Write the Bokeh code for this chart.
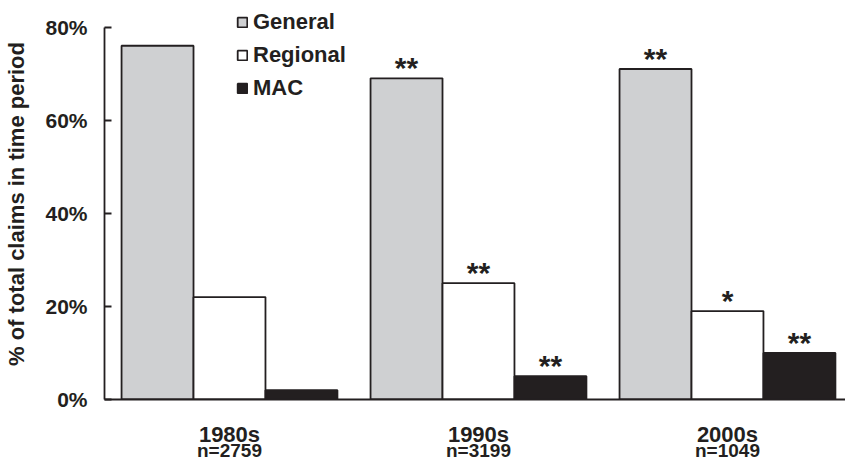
from bokeh.plotting import figure
from bokeh.models import Range1d, FixedTicker, Legend, LegendItem, ColumnDataSource, LinearAxis
from bokeh.core.properties import value
from bokeh.embed import file_html
from bokeh.resources import INLINE

periods = ["1980s", "1990s", "2000s"]
counts = ["n=2759", "n=3199", "n=1049"]
series = ["General", "Regional", "MAC"]
general = [76, 69, 71]
regional = [22, 25, 19]
mac = [2, 5, 10]
general_sig = ["", "**", "**"]
regional_sig = ["", "**", "*"]
mac_sig = ["", "**", "**"]
y_ticks = [0, 20, 40, 60, 80]
y_tick_labels = ["0%", "20%", "40%", "60%", "80%"]

FONT = "Liberation Sans"
INK = "#231f20"
fills = ["#cfd0d2", "#ffffff", INK]

p = figure(width=845, height=463, output_backend="svg", toolbar_location=None,
           x_range=Range1d(-0.502, 2.474), y_range=Range1d(0, 84.0),
           min_border_left=104, min_border_right=0, min_border_top=8, min_border_bottom=60)
p.outline_line_color = None
p.xgrid.visible = False
p.ygrid.visible = False
p.background_fill_color = "white"

bw = 0.289
offsets = [-bw, 0.0, bw]
xs = list(range(len(periods)))
items = []
for name, vals, sig, off, col in zip(series, [general, regional, mac],
                                      [general_sig, regional_sig, mac_sig], offsets, fills):
    src = ColumnDataSource(dict(x=[x + off for x in xs], top=vals, sig=sig))
    r = p.vbar(x="x", top="top", width=bw, source=src, fill_color=col,
               line_color=INK, line_width=1.8)
    items.append(LegendItem(label=name, renderers=[r]))
    p.text(x="x", y="top", text="sig", source=src, text_align="center",
           text_baseline="bottom", y_offset=6, text_font=value(FONT),
           text_font_style="bold", text_font_size="30px", text_color=INK)

legend = Legend(items=items, location=(132, 298), orientation="vertical",
                border_line_color=None, background_fill_alpha=0,
                padding=0, margin=0, spacing=7, glyph_width=12, glyph_height=12,
                label_height=22, label_standoff=5,
                label_text_font=FONT, label_text_font_style="bold",
                label_text_font_size="22px", label_text_color=INK)
p.add_layout(legend, "center")

yax = p.yaxis[0]
yax.ticker = FixedTicker(ticks=y_ticks)
yax.major_label_overrides = {t: l for t, l in zip(y_ticks, y_tick_labels)}
yax.bounds = (0, 80)
yax.major_tick_in = 7
yax.major_tick_out = 0
yax.minor_tick_line_color = None
yax.axis_line_color = INK
yax.axis_line_width = 1.8
yax.major_tick_line_color = INK
yax.major_tick_line_width = 1.8
yax.major_label_standoff = 17
yax.major_label_text_font = FONT
yax.major_label_text_font_style = "bold"
yax.major_label_text_font_size = "21px"
yax.major_label_text_color = INK
yax.axis_label = "% of total claims in time period"
yax.axis_label_text_font = FONT
yax.axis_label_text_font_style = "bold"
yax.axis_label_text_font_size = "22px"
yax.axis_label_text_color = INK
yax.axis_label_standoff = 13

xax = p.xaxis[0]
xax.ticker = FixedTicker(ticks=xs)
xax.major_label_overrides = {x: t for x, t in zip(xs, periods)}
xax.major_tick_line_color = None
xax.major_tick_out = 0
xax.major_tick_in = 0
xax.minor_tick_line_color = None
xax.major_label_standoff = 22
xax.major_label_text_font = FONT
xax.major_label_text_font_style = "bold"
xax.major_label_text_font_size = "22px"
xax.major_label_text_color = INK
xax.axis_line_color = INK
xax.axis_line_width = 1.8

nax = LinearAxis(ticker=FixedTicker(ticks=xs),
                 major_label_overrides={x: t for x, t in zip(xs, counts)},
                 axis_line_color=None, major_tick_line_color=None,
                 minor_tick_line_color=None, major_tick_out=0, major_tick_in=0,
                 major_label_standoff=-10, major_label_text_font=FONT,
                 major_label_text_font_style="bold", major_label_text_font_size="19px",
                 major_label_text_color=INK)
p.add_layout(nax, "below")

open("out.html", "w").write(file_html(p, INLINE))
